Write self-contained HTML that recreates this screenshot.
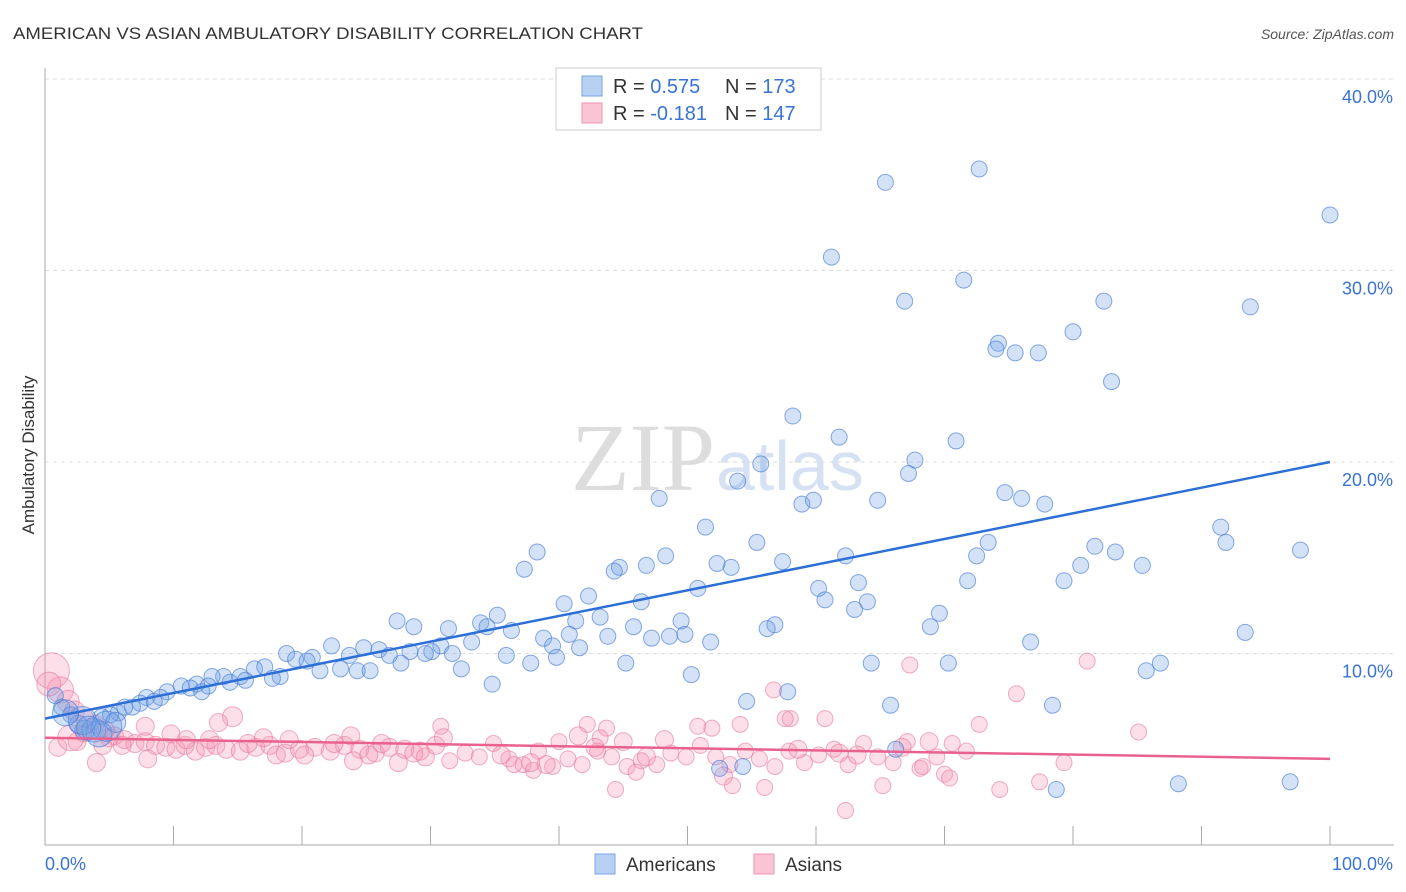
<!DOCTYPE html>
<html><head><meta charset="utf-8"><style>
body{margin:0;background:#fff;font-family:"Liberation Sans",sans-serif}
svg{display:block}
</style></head><body>
<svg id="chart" width="1406" height="892">
<text x="13" y="39" font-size="17" fill="#333" textLength="630" lengthAdjust="spacingAndGlyphs">AMERICAN VS ASIAN AMBULATORY DISABILITY CORRELATION CHART</text>
<text x="1394" y="39" font-size="14" fill="#555" font-style="italic" text-anchor="end">Source: ZipAtlas.com</text>
<text transform="translate(34,455) rotate(-90)" font-size="17" fill="#333" text-anchor="middle">Ambulatory Disability</text>
<text x="715" y="490" font-size="96" fill="#ddd" text-anchor="end" font-family="Liberation Serif">ZIP</text>
<text x="716" y="490" font-size="70" fill="#d6e2f3">atlas</text>
<g id="grid"></g><g id="pts"></g><g id="lines"></g>
<g>
<rect x="556" y="68" width="265" height="62" fill="#fff" stroke="#ccc"/>
<rect x="582" y="76" width="20" height="20" fill="#b8d1f3" stroke="#7aa6e6"/>
<rect x="582" y="103" width="20" height="20" fill="#f9c4d4" stroke="#ee95b2"/>
<text x="613" y="93" font-size="20" fill="#333">R = <tspan fill="#3a73d4">0.575</tspan><tspan x="725">N = </tspan><tspan fill="#3a73d4">173</tspan></text>
<text x="613" y="120" font-size="20" fill="#333">R = <tspan fill="#3a73d4">-0.181</tspan><tspan x="725">N = </tspan><tspan fill="#3a73d4">147</tspan></text>
</g>
<g>
<rect x="595" y="854" width="20" height="20" fill="#b8d1f3" stroke="#7aa6e6"/>
<text x="626" y="871" font-size="19" fill="#333">Americans</text>
<rect x="754" y="854" width="20" height="20" fill="#f9c4d4" stroke="#ee95b2"/>
<text x="785" y="871" font-size="19" fill="#333">Asians</text>
</g>
</svg>
<script>
const yTicks=[10,20,30,40];
const xTickLabels=["0.0%","100.0%"];
const amX=[65.4,72.7,100,61.2,71.5,66.9,82.4,93.8,80,74.2,74,75.5,77.3,83,58.2,61.8,70.9,55.7,67.7,67.2,53.9,74.7,76,77.8,47.8,58.9,59.8,64.8,51.4,91.5,91.9,55.4,73.4,97.7,81.7,83.3,38.3,48.3,62.3,72.5,57.4,52.3,80.6,85.4,37.3,44.7,44.3,46.8,53.4,79.3,71.8,63.3,50.8,60.2,42.3,60.7,46.4,64,40.4,63,43.2,69.6,41.3,27.4,28.7,31.4,35.2,33.9,34.4,45.8,49.5,49.8,56.8,56.2,68.9,93.4,36.3,38.8,40.8,43.8,47.2,48.6,51.8,76.7,33.2,39.5,41.6,30.8,30.1,28.4,24.8,22.3,23.7,26,26.8,29.6,31.7,35.9,39.8,18.8,20.8,19.5,20.4,27.7,45.2,64.3,70.3,86.8,85.7,32.4,37.8,21.4,23,24.3,25.3,16.3,17.1,18.3,17.7,15.2,13.9,13,14.4,15.6,34.8,50.3,11.8,12.7,10.6,9.5,11.3,12.2,9,7.9,8.5,7.4,6.8,6.2,5.7,5.1,4.4,54.6,57.8,65.8,78.4,66.2,52.5,54.3,78.7,88.2,96.9,0.8,1.3,2,2.6,3.1,3.8,4.2,4.8,2.9,1.6,3.4,5.5];
const amY=[34.6,35.3,32.9,30.7,29.5,28.4,28.4,28.1,26.8,26.2,25.9,25.7,25.7,24.2,22.4,21.3,21.1,19.9,20.1,19.4,19,18.4,18.1,17.8,18.1,17.8,18,18,16.6,16.6,15.8,15.8,15.8,15.4,15.6,15.3,15.3,15.1,15.1,15.1,14.8,14.7,14.6,14.6,14.4,14.5,14.3,14.6,14.5,13.8,13.8,13.7,13.4,13.4,13,12.8,12.7,12.7,12.6,12.3,11.9,12.1,11.7,11.7,11.4,11.3,12,11.6,11.4,11.4,11.7,11,11.5,11.3,11.4,11.1,11.2,10.8,11,10.9,10.8,10.9,10.6,10.6,10.6,10.4,10.3,10.4,10.1,10.1,10.3,10.4,9.9,10.2,9.9,10,10,9.9,9.8,10,9.8,9.7,9.6,9.5,9.5,9.5,9.5,9.5,9.1,9.2,9.5,9.1,9.2,9.1,9.1,9.2,9.3,8.8,8.7,8.8,8.8,8.8,8.5,8.6,8.4,8.9,8.4,8.3,8.3,8,8.2,8,7.7,7.7,7.5,7.4,7.2,7.2,6.9,6.8,6.7,7.5,8,7.3,7.3,5,4,4.1,2.9,3.2,3.3,7.8,7.2,6.8,6.3,6,6,5.8,6.2,6.5,6.9,6.1,6.4];
const amR=[8,8,8,8,8,8,8,8,8,8,8,8,8,8,8,8,8,8,8,8,8,8,8,8,8,8,8,8,8,8,8,8,8,8,8,8,8,8,8,8,8,8,8,8,8,8,8,8,8,8,8,8,8,8,8,8,8,8,8,8,8,8,8,8,8,8,8,8,8,8,8,8,8,8,8,8,8,8,8,8,8,8,8,8,8,8,8,8,8,8,8,8,8,8,8,8,8,8,8,8,8,8,8,8,8,8,8,8,8,8,8,8,8,8,8,8,8,8,8,8,8,8,8,8,8,8,8,8,8,8,8,8,8,8,8,8,8,8,8,8,8,8,8,8,8,8,8,8,8,8,8,8,8,8,9,10,12,13,15,14,13,12,10,11,12,11];
const asX=[0.5,1.2,1.8,2.3,3.1,3.9,4.7,5.4,6.2,7,7.8,8.6,9.4,10.2,10.9,11.7,12.5,13.3,14.1,15.2,16.4,17.5,18.7,19.8,21,22.2,23.3,24.5,25.7,26.8,28,29.2,30.4,14.6,7.8,30.8,67.3,81.1,75.6,56.7,58,57.6,60.7,72.7,85.1,62.3,44.4,53.5,56,74.3,77.4,79.3,68.1,70,70.4,65.2,50.8,51.9,54.1,42.2,43.7,43.2,31.5,32.7,33.8,34.9,36.1,37.2,38.4,39.5,40.7,41.8,43,44.1,45.3,46.4,47.6,48.7,49.9,51,52.2,53.3,54.5,55.6,56.8,57.9,59.1,60.2,61.4,62.5,63.7,64.8,66,67.1,68.3,69.4,70.6,71.7,46,38,36.5,40,3,5,6,2.5,4.5,9.8,11,12.8,15.8,17,18,20.2,22.5,24,25.2,26.2,27.5,29.6,31,35.5,37.8,39,42.8,46.8,48.2,52.8,58.6,61.8,63.2,66.7,68.8,45,41.5,4,8,13.5,19,23.8,28.7,1,2,0.3];
const asY=[9.1,8.1,7.5,7,6.6,6.3,6,5.7,5.5,5.3,5.4,5.2,5.1,5,5.2,4.9,5.1,5.2,5,4.9,5.1,5.2,4.8,5,5.1,4.9,5.2,5,4.8,5.1,5,4.9,5.2,6.7,6.2,6.2,9.4,9.6,7.9,8.1,6.6,6.6,6.6,6.3,5.9,1.8,2.9,3.1,3,2.9,3.3,4.3,4,3.7,3.5,3.1,6.2,6.1,6.3,6.3,6.1,5.6,4.4,4.8,4.6,5.3,4.5,4.2,4.9,4.1,4.5,4.2,4.9,4.6,4.1,4.4,4.2,4.8,4.6,5.2,4.6,4.2,4.9,4.5,4.1,4.9,4.3,4.7,5,4.2,5.3,4.6,4.3,5.4,4.1,4.6,5.3,4.9,3.8,3.9,4.2,5.4,5.8,5.6,5.2,5.4,5.2,5.8,5.5,5.5,5.3,5.6,4.7,4.7,5.3,4.4,4.7,5.3,4.3,4.6,5.6,4.7,4.3,4.2,5.1,4.6,5.5,3.6,5,4.8,4.7,5.1,5.4,5.4,5.7,4.3,4.5,6.4,5.5,5.7,4.8,5.1,5.6,8.4,7.6,8.6];
const asR=[18,13,11,10,9,9,9,9,9,9,9,9,9,9,9,9,9,9,9,9,9,9,9,9,9,9,9,9,9,9,9,9,9,10,9,8,8,8,8,8,8,8,8,8,8,8,8,8,8,8,8,8,8,8,8,8,8,8,8,8,8,8,8,8,8,8,8,8,8,8,8,8,8,8,8,8,8,8,8,8,8,8,8,8,8,8,8,8,8,8,8,8,8,8,8,8,8,8,8,8,8,8,8,9,9,9,9,9,9,9,9,9,9,9,9,9,9,9,9,9,9,9,9,9,9,9,9,9,9,9,9,9,9,9,9,9,9,9,9,9,9,9,13,12,12];
const amTrend=[6.6,20.0];
const asTrend=[5.6,4.5];
const X=v=>45+v*12.85, Y=v=>845-v*19.15;
const NS="http://www.w3.org/2000/svg";
function mk(t,a,p){const e=document.createElementNS(NS,t);for(const k in a)e.setAttribute(k,a[k]);p.appendChild(e);return e;}
const grid=document.getElementById('grid');
yTicks.forEach(t=>{
 const l=mk('line',{x1:45,x2:1394,y1:Y(t),y2:Y(t),stroke:'#ddd','stroke-dasharray':'4,4'},grid);
 
 
 const tx=mk('text',{x:1393,y:Y(t)+24,'font-size':18,fill:'#3a73d4','text-anchor':'end'},grid);
 tx.textContent=t.toFixed(1)+'%';
 
 
});
const ax=mk('line',{x1:45,x2:1394,y1:845,y2:845,stroke:'#aaa'},grid);


const ay=mk('line',{x1:45,x2:45,y1:68,y2:845,stroke:'#aaa'},grid);


for(let k=1;k<=10;k++){const tk=mk('line',{x1:X(k*10),x2:X(k*10),y1:826,y2:845,stroke:'#aaa'},grid);
 
 }
const xl0=mk('text',{x:45,y:870,'font-size':18,fill:'#3a73d4'},grid);xl0.textContent=xTickLabels[0];


const xl1=mk('text',{x:1393,y:870,'font-size':18,fill:'#3a73d4','text-anchor':'end'},grid);xl1.textContent=xTickLabels[1];


const pts=document.getElementById('pts');
asX.forEach((v,i)=>{const c=mk('circle',{cx:X(v),cy:Y(asY[i]),r:asR[i],fill:'rgba(244,150,178,0.3)',stroke:'rgba(232,120,155,0.6)'},pts);
 
 });
amX.forEach((v,i)=>{const c=mk('circle',{cx:X(v),cy:Y(amY[i]),r:amR[i],fill:'rgba(110,160,230,0.3)',stroke:'rgba(70,125,215,0.65)'},pts);
 
 });
const lines=document.getElementById('lines');
const t1=mk('line',{x1:X(0),x2:X(100),y1:Y(amTrend[0]),y2:Y(amTrend[1]),stroke:'#2c6fd6','stroke-width':2.5},lines);


const t2=mk('line',{x1:X(0),x2:X(100),y1:Y(asTrend[0]),y2:Y(asTrend[1]),stroke:'#e9628e','stroke-width':2.5},lines);


</script>
</body></html>
